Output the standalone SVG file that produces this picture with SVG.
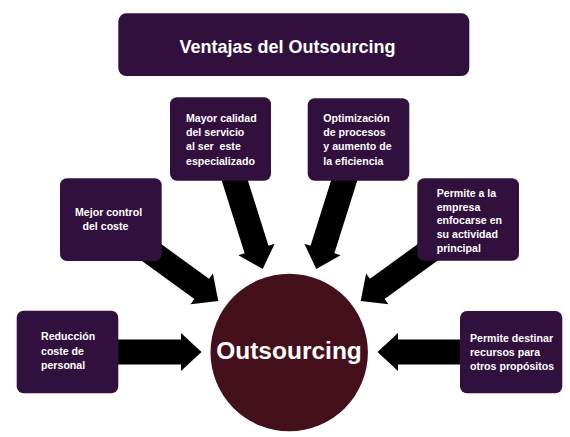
<svg xmlns="http://www.w3.org/2000/svg" width="570" height="437" viewBox="0 0 570 437">
  <style>
    .box { fill: #32103E; }
    .lbl { font-family: "Liberation Sans", Arial, sans-serif; font-weight: bold; font-size: 10.6px; fill: #ffffff; white-space: pre; }
    .title { font-family: "Liberation Sans", Arial, sans-serif; font-weight: bold; font-size: 18px; fill: #ffffff; }
    .core { font-family: "Liberation Sans", Arial, sans-serif; font-weight: bold; font-size: 24.5px; fill: #ffffff; }
    .arrow { fill: #000000; }
  </style>
  <defs>
    <path id="arrowShort" d="M0,0 L-20.5,-19 L-20.5,-12.5 L-90,-12.5 L-90,12.5 L-20.5,12.5 L-20.5,19 Z"/>
    <path id="arrowLong" d="M0,0 L-20.5,-19 L-20.5,-12.5 L-115,-12.5 L-115,12.5 L-20.5,12.5 L-20.5,19 Z"/>
  </defs>
  <rect width="570" height="437" fill="#ffffff"/>

  <g id="connectors">
    <use href="#arrowShort" class="arrow" transform="translate(201.5,352)"/>
    <use href="#arrowShort" class="arrow" transform="translate(377.5,352) rotate(180)"/>
    <use href="#arrowLong" class="arrow" transform="translate(218.3,301) rotate(36)"/>
    <use href="#arrowLong" class="arrow" transform="translate(360.7,301) rotate(144)"/>
    <use href="#arrowLong" class="arrow" transform="translate(262.7,269) rotate(72.5)"/>
    <use href="#arrowLong" class="arrow" transform="translate(316.3,269) rotate(107.5)"/>
  </g>

  <g id="title">
    <rect class="box" x="118.3" y="13.3" width="351" height="62.7" rx="8"/>
    <text class="title" x="287.5" y="52.5" text-anchor="middle">Ventajas del Outsourcing</text>
  </g>

  <g id="mayor-calidad">
    <rect class="box" x="170" y="97.3" width="101" height="83.4" rx="7"/>
    <text class="lbl"><tspan x="186" y="122">Mayor calidad</tspan><tspan x="186" y="136.2">del servicio</tspan><tspan x="186" y="150.4">al ser  este</tspan><tspan x="186" y="164.6">especializado</tspan></text>
  </g>

  <g id="optimizacion">
    <rect class="box" x="307.7" y="98.3" width="101.6" height="82.4" rx="7"/>
    <text class="lbl"><tspan x="323.3" y="122">Optimización</tspan><tspan x="323.3" y="136.2">de procesos</tspan><tspan x="323.3" y="150.4">y aumento de</tspan><tspan x="323.3" y="164.6">la eficiencia</tspan></text>
  </g>

  <g id="mejor-control">
    <rect class="box" x="60" y="178.3" width="101.7" height="82.7" rx="7"/>
    <text class="lbl"><tspan x="75" y="215.5">Mejor control</tspan><tspan x="82.5" y="230">del coste</tspan></text>
  </g>

  <g id="permite-enfocarse">
    <rect class="box" x="417.3" y="178.3" width="101.7" height="82.4" rx="7"/>
    <text class="lbl"><tspan x="436.7" y="196.7">Permite a la</tspan><tspan x="436.7" y="210.5">empresa</tspan><tspan x="436.7" y="224.3">enfocarse en</tspan><tspan x="436.7" y="238.2">su actividad</tspan><tspan x="436.7" y="252">principal</tspan></text>
  </g>

  <g id="reduccion">
    <rect class="box" x="16.7" y="310.7" width="101.6" height="82.6" rx="7"/>
    <text class="lbl"><tspan x="41" y="340">Reducción</tspan><tspan x="41" y="354.5">coste de</tspan><tspan x="41" y="369">personal</tspan></text>
  </g>

  <g id="permite-destinar">
    <rect class="box" x="460" y="311" width="102.3" height="82.3" rx="7"/>
    <text class="lbl"><tspan x="470" y="341.7">Permite destinar</tspan><tspan x="470" y="355.7">recursos para</tspan><tspan x="470" y="370">otros propósitos</tspan></text>
  </g>

  <g id="outsourcing">
    <circle cx="289.2" cy="352.5" r="78.7" fill="#43101B"/>
    <text class="core" x="289" y="359" text-anchor="middle">Outsourcing</text>
  </g>
</svg>
